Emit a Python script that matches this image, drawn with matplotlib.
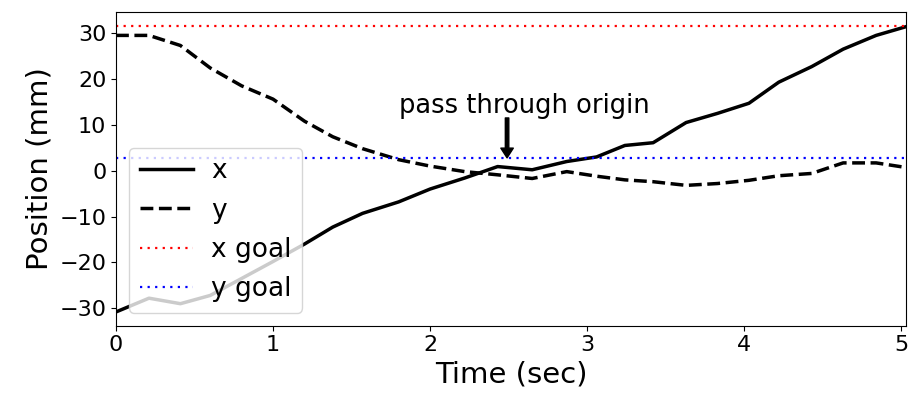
import matplotlib
matplotlib.use("Agg")
import matplotlib.pyplot as plt

# time samples (sec)
t = [0, 0.21, 0.41, 0.6, 0.8, 1.0, 1.2, 1.38, 1.57, 1.8, 2.0, 2.22, 2.43,
     2.65, 2.87, 3.06, 3.24, 3.42, 3.63, 3.83, 4.03, 4.22, 4.43, 4.63, 4.84, 5.03]

# x position (mm)
x_pos = [-30.8, -27.8, -29.0, -27.2, -23.5, -19.8, -16.0, -12.3, -9.3, -6.8,
         -4.0, -1.6, 0.9, 0.2, 2.0, 3.0, 5.5, 6.1, 10.5, 12.5, 14.7, 19.3,
         22.7, 26.5, 29.5, 31.4]

# y position (mm)
y_pos = [29.5, 29.5, 27.3, 22.4, 18.5, 15.6, 10.8, 7.4, 4.8, 2.4, 1.0, -0.2,
         -0.9, -1.7, -0.2, -1.2, -2.0, -2.4, -3.2, -2.8, -2.1, -1.1, -0.6,
         1.7, 1.7, 0.7]

x_goal = 31.6
y_goal = 2.8

fig = plt.figure(figsize=(9.12, 4.03), dpi=100)
ax = fig.add_axes([0.1272, 0.1918, 0.8662, 0.7784])

ax.plot(t, x_pos, "k-", lw=2.5, label="x")
ax.plot(t, y_pos, "k--", lw=2.5, label="y")
ax.axhline(x_goal, color="r", ls=(0, (1, 2.4)), lw=1.6, label="x goal")
ax.axhline(y_goal, color="b", ls=(0, (1, 2.4)), lw=1.6, label="y goal")

ax.text(2.6, 14, "pass through origin", fontsize=18.5, ha="center", va="center")
ax.annotate("", xy=(2.49, y_goal), xytext=(2.49, 11.5),
            arrowprops=dict(facecolor="black", edgecolor="black", width=2.5,
                            headwidth=9, headlength=7, shrink=0))

ax.set_xlim(0, t[-1])
ax.set_ylim(-33.8, 34.6)
ax.set_xlabel("Time (sec)", fontsize=21)
ax.set_ylabel("Position (mm)", fontsize=21)
ax.tick_params(labelsize=16)
ax.legend(loc="lower left", fontsize=19, handletextpad=0.7)

fig.savefig("out.png", dpi=100)
